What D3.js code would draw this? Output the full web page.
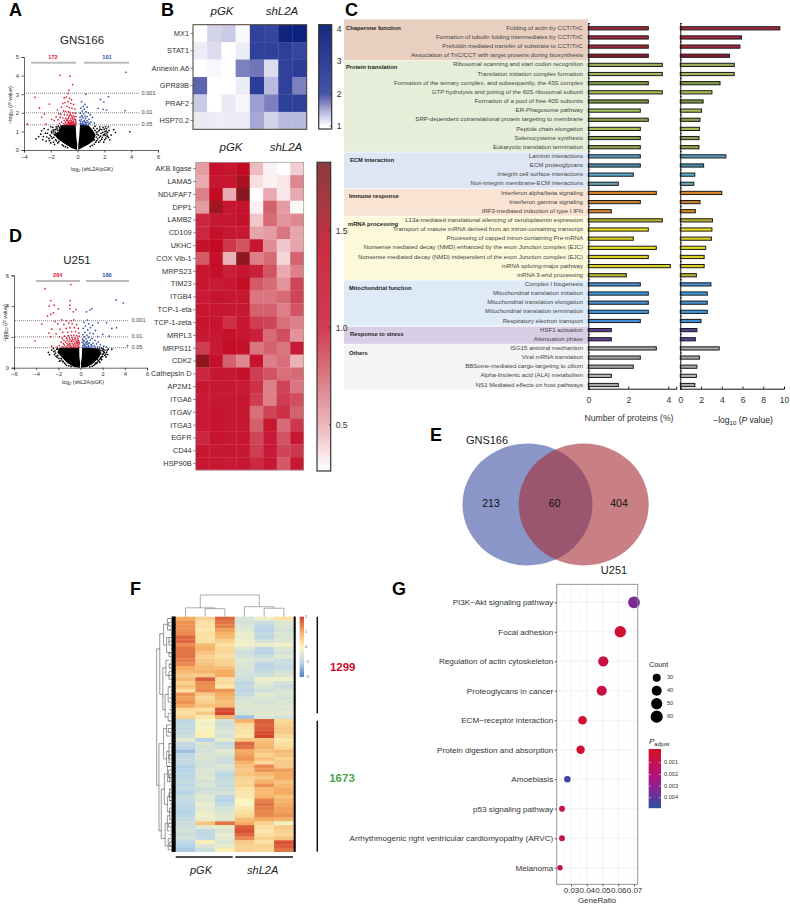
<!DOCTYPE html>
<html>
<head>
<meta charset="utf-8">
<script src="https://cdn.jsdelivr.net/npm/d3@7"></script>
<style>
  html, body { margin: 0; padding: 0; background: #fff; }
  svg { display: block; font-family: "Liberation Sans", Arial, sans-serif; }
  text { fill: #222; }
</style>
</head>
<body>
<svg id="fig" width="790" height="906"></svg>
<script>
// ---------- panel A volcano (log2 ratio, -log10 p) ----------
const aRed = [[-1.3,4.02],[-.57,3.97],[-.37,3.52],[-.65,3.22],[-.7,3.04],[-3.18,2.83],[-2.85,2.26],[-2.1,2.47],[-2.48,1.94],[-2.68,1.76],[-1.93,1.65],[-3.75,1.39],[-2.36,1.39],[-1.74,1.58],[-1,2.8],[-.85,2.85],[-.6,2.78],[-.45,2.7],[-.7,2.6],[-.95,2.55],[-1.1,2.5],[-.5,2.5],[-.3,2.45],[-.8,2.35],[-1.2,2.3],[-.62,2.28],[-.42,2.25],[-.2,2.2],[-1.5,2.15],[-1.05,2.1],[-.9,2.08],[-.7,2.05],[-.55,2.02],[-.35,2],[-.15,1.98],[-1.4,1.95],[-1.25,1.92],[-.98,1.9],[-.78,1.88],[-.6,1.85],[-.45,1.84],[-.28,1.82],[-.12,1.8],[-1.6,1.78],[-1.3,1.75],[-1.1,1.72],[-.88,1.7],[-.7,1.7],[-.52,1.68],[-.36,1.66],[-.2,1.65],[-1.45,1.62],[-1,1.6],[-.8,1.58],[-.62,1.57],[-.44,1.56],[-.3,1.55],[-.14,1.54],[-1.2,1.5],[-.92,1.5],[-.72,1.48],[-.55,1.47],[-.38,1.46],[-.22,1.45],[-.1,1.44],[-1.35,1.42],[-1.05,1.41],[-.85,1.4],[-.66,1.4],[-.48,1.39],[-.32,1.38],[-.18,1.38],[-.58,1.36],[-.42,1.36],[-.26,1.36],[-.75,1.37],[-.95,1.37],[-.5,1.6],[-.4,1.75],[-.65,1.78],[-.25,1.72],[-.55,1.92],[-.35,1.5],[-.6,1.45],[-.15,1.62],[-.78,1.62],[-.46,1.48],[-.3,1.42],[-.7,1.52],[-.52,1.4]];
const aBlue = [[3.6,4.18],[.62,3],[2.3,2.86],[1.7,2.72],[1.96,2.58],[3.55,2.12],[2.16,2.15],[1.9,2.19],[1.54,2.24],[.3,2.6],[.55,2.45],[.42,2.35],[.7,2.3],[.25,2.25],[.5,2.2],[.35,2.1],[.62,2.05],[.8,2],[.2,1.98],[.45,1.95],[.95,1.9],[.3,1.85],[.55,1.82],[.72,1.8],[.18,1.75],[.4,1.72],[.6,1.7],[.85,1.65],[1.1,1.75],[.28,1.62],[.5,1.6],[.7,1.58],[.22,1.52],[.38,1.5],[.58,1.48],[.78,1.5],[1,1.5],[1.25,1.45],[.2,1.42],[.32,1.4],[.46,1.39],[.62,1.38],[.8,1.38],[.25,1.37],[.4,1.36],[.55,1.36],[.15,1.6],[.66,1.46],[.9,1.42],[.48,1.52],[.35,1.78]];
const aBlack = [[-2.68,1.03],[2.83,.94],[3.9,.98],[-2.9,.72],[-2.6,.55],[-2.4,.9],[-2.3,.7],[-2.2,1.1],[-2.1,.5],[-2.05,.8],[-1.95,1],[-1.9,.62],[-1.85,1.22],[-1.8,.42],[-1.75,.85],[-1.7,1.08],[-1.65,.55],[-1.6,1.25],[-1.55,.72],[-1.5,1.05],[-1.45,.92],[-1.4,.45],[-1.35,1.2],[-1.3,.82],[-1.25,1.28],[-3.1,.6],[-2.75,.85],[-2.5,1.15],[-1.2,1.1],[-1.65,.95],[-2,1.25],[1.3,1.28],[1.4,.95],[1.45,1.15],[1.5,.6],[1.55,.8],[1.6,1.05],[1.65,1.25],[1.7,.5],[1.75,.9],[1.8,1.1],[1.85,.68],[1.9,1.22],[1.95,.42],[2,.85],[2.05,1],[2.1,.62],[2.15,1.15],[2.2,.8],[2.25,.95],[2.2,.72],[2.15,1.02],[2.05,.78],[2.3,1.25],[2.4,.55],[2.5,.8],[2.7,1.1],[1.25,.55],[1.35,.42],[1.2,1.18],
  [-2.55,.72],[-2.35,.48],[-2.25,.9],[-2.15,.62],[-2,.38],[-1.98,.72],[-1.92,.92],[-1.82,1.08],[-1.78,.68],[-1.72,.3],[-1.68,.78],[-1.6,.88],[-1.58,.5],[-1.52,1.18],[-1.48,.38],[-1.42,.7],[-1.38,1.08],[-1.32,1],[-1.28,.55],[-1.22,.95],[-1.15,.28],[-1.05,.22],[-.9,.18],[-.75,.12],[-1.8,.98],[-1.62,1.12],[-1.45,1.28],[-1.3,1.12],[1.1,.25],[.95,.2],[1.25,.32],[1.4,.7],[1.42,.5],[1.52,.98],[1.58,.42],[1.62,.68],[1.68,1.12],[1.72,.75],[1.8,.58],[1.88,.95],[1.92,.8],[1.98,1.12],[2.02,.55],[2.08,1.25],[2.12,.9],[2.3,.68],[2.35,1.05],[1.3,1.05],[1.45,.85]];
const aCoreLeft = [[-.05,0],[-.5,.12],[-1,.35],[-1.5,.6],[-1.7,.85],[-1.4,1],[-1.2,1.33],[-.14,1.35],[-.1,.7],[-.03,.3]];
const aCoreRight = [[.05,0],[.4,.15],[.8,.3],[1.2,.5],[1.35,.8],[1.1,1.1],[.8,1.33],[.18,1.34],[.12,.7],[.05,.3]];

// ---------- panel D volcano ----------
const dRed = [[-3.19,5.14],[-.87,5.4],[-2.68,4.36],[-.93,4.36],[-2.38,4.06],[-.96,4.06],[-2.83,4],[-2,3.82],[-.96,3.84],[-.42,3.78],[-.66,3.63],[-2.44,3.56],[-2.68,3.46],[-2.98,3.35],[-3.5,2.83],[-4.1,1.75],[-2.6,1.4],[-1.7,3.1],[-1.3,3.05],[-.85,3.05],[-.6,3.1],[-2.3,3],[-2.05,2.85],[-1.5,2.8],[-1.05,2.9],[-.75,2.85],[-.35,2.8],[-2.6,2.5],[-1.85,2.5],[-1.3,2.55],[-.95,2.6],[-.55,2.6],[-.2,2.55],[-2.85,2.25],[-2.2,2.2],[-1.6,2.3],[-1.15,2.3],[-.8,2.35],[-.45,2.35],[-.15,2.25],[-2.7,2.02],[-1.9,2],[-1.45,2.05],[-1.1,2.08],[-.85,2.1],[-.6,2.12],[-.35,2.08],[-.12,2.05],[-1.65,1.9],[-1.25,1.92],[-1,1.94],[-.75,1.95],[-.5,1.92],[-.25,1.9],[-1.5,1.78],[-1.2,1.8],[-.95,1.82],[-.7,1.82],[-.45,1.8],[-.18,1.78],[-1.75,1.66],[-1.35,1.68],[-1.08,1.7],[-.85,1.7],[-.6,1.7],[-.35,1.68],[-.12,1.66],[-1.55,1.56],[-1.22,1.58],[-.98,1.58],[-.75,1.58],[-.52,1.58],[-.28,1.56],[-.1,1.55],[-1.9,1.44],[-1.45,1.46],[-1.15,1.46],[-.9,1.46],[-.66,1.47],[-.42,1.46],[-.2,1.46],[-2.1,1.34],[-1.65,1.36],[-1.3,1.36],[-1.02,1.36],[-.8,1.36],[-.56,1.36],[-.32,1.36],[-.14,1.36],[-1.5,1.32],[-1.18,1.32],[-.68,1.32],[-.45,1.32],[-.24,1.32],[-.9,1.32],[-.6,1.5],[-.38,1.62],[-.8,1.74],[-.52,1.88],[-.28,1.76],[-1.05,1.5],[-.22,1.64]];
const dBlue = [[3.22,4.4],[3.86,4.2],[1.02,3.84],[.84,3.74],[.54,3.63],[.63,3.09],[2.35,2.92],[1.6,2.92],[3.25,2.6],[2.83,2.55],[2.6,2.05],[2,2.16],[4.25,1.43],[.3,2.95],[.75,2.85],[1.1,2.75],[.45,2.7],[.9,2.6],[.25,2.55],[.65,2.45],[1.35,2.42],[.4,2.3],[.85,2.25],[1.15,2.2],[.22,2.15],[.58,2.1],[1.55,2.02],[.35,2],[.75,1.98],[1.05,1.9],[.2,1.85],[.5,1.88],[.9,1.8],[1.3,1.78],[.32,1.72],[.62,1.72],[1.6,1.68],[.18,1.64],[.46,1.62],[.8,1.62],[1.12,1.6],[1.45,1.55],[.28,1.54],[.6,1.52],[.95,1.5],[1.8,1.5],[.2,1.44],[.42,1.44],[.72,1.42],[1.25,1.42],[2.1,1.4],[.32,1.36],[.55,1.35],[.85,1.34],[1.05,1.36],[1.55,1.36],[.22,1.32],[.46,1.32],[.7,1.32],[1.35,1.32],[1.75,1.33],[2.35,1.36],[.38,1.52],[.7,1.56],[.25,1.75],[.55,1.64],[1,1.44]];
const dBlack = [[2.83,1.2],[-2.9,1],[-2.8,.85],[-2.6,1.15],[-2.45,1.25],[-2.3,1.1],[-2.25,.95],[-2.15,1.2],[-2.05,.8],[-1.95,.6],[-1.85,.45],[-1.7,.5],[-1.6,.38],[-1.45,.3],[1.35,.3],[1.5,.35],[1.6,.45],[1.75,.55],[1.85,.6],[2,.72],[2.05,.92],[2.1,1.05],[2.2,.8],[2.2,1.15],[2.3,.7],[2.35,1],[2.45,.85],[2.5,1.2],[1.95,1.25],[1.75,.35],[1.2,.15],[-1.25,.15],
  [-2.35,.85],[-2.2,.75],[-2.4,1.05],[-2.1,.68],[-1.9,.42],[-2.05,1.22],[-1.75,.6],[-1.55,.42],[-1.35,.24],[-1.05,.12],[-.85,.08],[.85,.06],[1.05,.1],[1.3,.22],[1.45,.28],[1.55,.52],[1.68,.42],[1.8,.66],[1.92,.52],[1.98,.85],[2.05,1.2],[2.15,.98],[2.28,.88],[2.42,1.12],[2,1.1],[1.85,1.12],[1.72,1.22],[1.9,.72]];
const dCoreLeft = [[-.05,0],[-.6,.05],[-1.2,.3],[-1.7,.7],[-2.1,1],[-1.9,1.3],[-.12,1.3],[-.1,.7],[-.03,.3]];
const dCoreRight = [[.05,0],[.6,.05],[1.1,.25],[1.6,.6],[1.9,.95],[1.6,1.27],[.15,1.3],[.12,.7],[.04,.3]];

// ---------- panel B heatmaps ----------
const bTopGenes = ["MX1","STAT1","Annexin A6","GPR89B","PRAF2","HSP70.2"];
const bTopValues = [
  [1,1.25,1.3,1.03,2.4,2.2,3.8,3.9],
  [1.1,1.2,1,1.1,2.4,2.4,2.5,2.2],
  [1,1.04,1,1.7,1.75,1.2,2.4,2.6],
  [1.85,1,1,1.1,2.6,1.4,2.4,1.7],
  [1.3,1,1.12,1.05,1.55,1.7,2.5,2.5],
  [1.12,1.1,1.1,1.1,1.5,1.25,1.4,1.4]];
const bTopTicks = [1,2,3,4];
const bGenes = ["AKB ligase","LAMA5","NDUFAF7","DPP1","LAMB2","CD109","UKHC","COX Vlb-1","MRPS23","TIM23","ITGB4","TCP-1-eta","TCP-1-zeta","MRPL3","MRPS11","CDK2","Cathepsin D","AP2M1","ITGA6","ITGAV","ITGA3","EGFR","CD44","HSP90B"];
const bValues = [
  [.55,1.25,1.1,1.4,.45,.3,.26,.4],
  [.5,1.1,1.1,1.55,.35,.3,.33,.62],
  [.65,1.35,.5,1.75,.26,.5,.33,.5],
  [.55,1.6,1.1,1.2,.3,.75,.55,.28],
  [.95,1.05,1.05,1.25,.42,.72,.58,.62],
  [.95,1.25,1.05,1.05,.52,.55,.68,.52],
  [1.2,1.4,.9,.8,1.1,.6,.42,.52],
  [.78,1.25,.48,1.7,.65,.72,.38,.75],
  [1.1,1.25,.98,1.1,.98,.8,.5,.65],
  [1.05,1,1.05,1.3,.78,.72,.58,.85],
  [1,1.15,1.1,1.1,.68,.68,.72,.85],
  [1.1,1.1,1.05,1.05,.75,.75,.65,.8],
  [1.15,1.15,.92,1.1,.88,.85,.7,.65],
  [1.05,1.1,1.2,1.1,.98,.72,.82,.58],
  [.88,1,1.3,1.2,.68,.75,.68,1],
  [1.7,1.25,.75,.62,1.15,.65,.7,.48],
  [.95,1.1,1.05,1.25,.88,.8,.7,.72],
  [1.05,1.05,1.05,1,.92,.65,.85,.68],
  [1,1.05,1.05,1.1,.88,.65,.88,.82],
  [1,1.15,1.05,1.05,.7,.85,.92,.75],
  [1,1.15,1.05,1.05,.75,1.1,.72,.9],
  [.95,1.15,1.05,1.1,.85,1,.8,1.05],
  [1.05,1.05,1.1,1.05,.88,1,.85,.9],
  [1.05,1.1,1,1.05,.95,1.05,.78,1.05]];
const bTicks = [0.5,1.0,1.5];

// ---------- panel C enrichment bars ----------
const cGroups = ["Chaperone function","Protein translation","ECM interaction","Immune response","mRNA processing","Mitochondrial function","Response to stress","Others"];
const cGroupSizes = [4,10,4,3,7,5,2,5];
const cPathways = ["Folding of actin by CCT/TriC","Formation of tubulin folding intermediates by CCT/TriC","Prefoldin mediated transfer of substrate to CCT/TriC","Association of TriC/CCT with target proteins during biosynthesis",
  "Ribosomal scanning and start codon recognition","Translation initiation complex formation","Formation of the ternary complex, and subsequently, the 43S complex","GTP hydrolysis and joining of the 60S ribosomal subunit","Formation of a pool of free 40S subunits","ER-Phagosome pathway","SRP-dependent cotranslational protein targeting to membrane","Peptide chain elongation","Selenocysteine synthesis","Eukaryotic translation termination",
  "Laminin interactions","ECM proteoglycans","Integrin cell surface interactions","Non-integrin membrane-ECM interactions",
  "Interferon alpha/beta signaling","Interferon gamma signaling","IRF3-mediated induction of type I IFN",
  "L13a-mediated translational silencing of ceruloplasmin expression","Transport of mature mRNA derived from an intron-containing transcript","Processing of capped intron-containing Pre-mRNA","Nonsense mediated decay (NMD) enhanced by the exon Junction complex (EJC)","Nonsense mediated decay (NMD) independent of the exon Junction complex (EJC)","mRNA splicing-major pathway","mRNA 3-end processing",
  "Complex I biogenesis","Mitochondrial translation initiation","Mitochondrial translation elongation","Mitochondrial translation termination","Respiratory electron transport",
  "HSF1 activation","Attenuation phase",
  "ISG15 antiviral mechanism","Viral mRNA translation","BBSome-mediated cargo-targeting to cilium","Alpha-linolenic acid (ALA) metabolism","NS1 Mediated effects on host pathways"];
const cProteins = [3,3,3,3, 3.7,3.7,3,3.7,3,2.6,3,2.6,2.6,2.6, 2.6,2.6,2.25,1.5, 3.4,2.6,1.15, 3.7,3,2.25,3.4,3,4.1,1.9, 2.6,3,3,3,2.6, 1.15,1.15, 3.4,2.6,2.25,1.15,1.5];
const cLogP = [9.6,5.9,5.75,4.75, 5.2,5.2,3.83,3.05,2.2,2.05,1.9,1.85,1.8,1.8, 4.4,2.25,1.4,1.3, 4,1.9,1.45, 3.1,3.05,3,2.45,2.3,2.3,1.55, 2.95,2.6,2.6,2.6,2, 1.6,1.45, 3.75,1.85,1.6,1.55,1.4];
const cProteinTicks = [0,2,4];
const cLogPTicks = [0,2,4,6,8,10];

// ---------- panel E venn ----------
const vennCounts = [213,60,404];
const vennNames = ["GNS166","U251"];

// ---------- panel F clustered heatmap ----------
const fColumns = ["c1","c2","c3","c4","c5","c6"];
const fCluster1 = [
  [1,.5,1.6,-.6,-.2,.3],[1.2,.3,1.5,-.6,-.7,-.5],[1.2,.3,1.4,-.5,-.9,-.5],[1.2,.2,1.1,-.4,-1,-.6],[1.3,.3,.9,-.3,-.8,-.5],[1.6,.3,.8,-.3,-.9,-.5],[1.6,.3,.5,-.2,-.6,-.4],[1.3,.8,.3,-.2,-.3,-.2],[1.5,.9,.4,-.5,-.9,-.5],
  [1.5,.7,.4,-.7,-1,-.6],[1.5,.5,.3,-.6,-.7,-.4],[1.4,.6,.5,-.4,-.6,-.7],[1.3,.7,.5,-.5,-.9,-.7],[1,.8,.7,-.5,-.9,-.8],[.8,.9,1,-.6,-.8,-.6],[.6,.6,1,-.6,-.7,-.5],[.8,1.7,.3,-.7,-.2,-.2],[.5,1.3,.4,-.9,-.4,-.6],
  [.7,1.2,.2,-.8,-.5,-.7],[.3,1.3,1.2,-.9,-.7,-.5],[1.2,.6,1,-.8,-.4,-.5],[1.1,.4,.9,-.6,-.5,-.6],[1.2,.5,.7,-.5,-.6,-.5],[1,.7,.8,-.4,-.5,-.4],[.4,.3,1.8,-.5,-.5,-.5],[.3,.6,1.9,-.5,-.4,-.4],[.5,.2,.9,-1.2,-.5,-.6]];
const fCluster2 = [
  [-.9,-.1,-.6,.9,1.7,.4],[-.8,-.2,-.7,.4,1.6,.5],[-.8,-.1,-.6,.3,1.7,.6],[-.8,.1,-.5,.3,1.8,.6],[-.7,.1,-.6,.2,1.9,.4],[-.4,-1,-.3,.6,.7,.2],[-.8,-.5,-.8,1.6,.8,.3],
  [-.9,-.6,-.7,1.5,.9,.4],[-1.2,-.6,-.4,1,.7,.8],[-.9,-.5,-.5,1.1,.5,.7],[-.8,-.5,-.7,1.2,.7,.5],[-.8,-.6,-.7,.9,.4,.6],[-1,-.6,-.5,.7,1.3,.6],[-1,-.5,-.6,.6,1.2,1.1],
  [-.9,-.5,-.9,.7,.8,1],[-.9,-.4,-.8,.5,.6,1],[-.8,-.6,-.7,.4,.9,.7],[-.9,-.5,-.8,.5,1.2,.8],[-.8,-.7,-.7,.3,.8,1],[-1,-.6,-.6,.2,.8,1],[-.7,-.4,-.9,.2,.9,.7],
  [-.8,-.5,-1,0,1.4,.9],[-.9,-.3,-.8,-.1,1.5,1],[-.9,-.4,-.6,.2,1.4,1.1],[-1,-.3,-.5,.3,1.3,1.1],[-.9,-.2,-.4,.4,1.3,1.2],[-.8,-.3,-.4,.8,1,.9],[-.7,.7,1.5,1,.5,-.2],
  [-.7,-.4,-.3,1.7,.3,.6],[-.6,-.8,-.5,1.8,.2,.5],[-.7,-.9,-.3,1.6,.3,.4],[-.6,-.8,-.4,1.3,.5,.7],[-.9,.1,-.5,.6,.3,1.8],[-1,-.5,-.3,.5,.5,1.7],[-1.1,-.7,.1,.5,.4,1.5]];
const fTicks = [-2,-1,0,1,2];
const fClusterSizes = [1299,1673];
// column tree: merge height and two children, leaves are column indexes
const fColTree = {h:1, kids:[{h:.41, kids:[0,{h:.37, kids:[1,2]}]},{h:.46, kids:[3,{h:.39, kids:[4,5]}]}]};
// row tree brackets: depth, row a, row b, depth a, depth b
const fRowTree = [[1,8,44,.8,.85],[.8,4,20,.55,.6],[.55,1.5,7,.3,.35],[.6,13,24,.4,.45],[.85,33,56,.55,.7],[.55,29,37,.35,.35],[.7,45,58,.5,.45],[.5,41,49,.3,.3],[.45,54,60,.3,.25],[.3,0,3,.15,.1],[.35,5,9,.2,.15],[.4,11,15,.2,.2],[.45,20,26,.25,.25],[.35,28,31,.15,.15],[.35,35,39,.2,.15],[.3,39,43,.15,.15],[.3,47,51,.15,.15],[.3,52,56,.15,.15],[.25,58,61,.1,.1],[.2,5,7,.1,.1],[.2,9,10,.1,.1],[.2,14,16,.1,.1],[.25,18,22,.12,.12],[.25,25,27,.12,.1],[.2,33,37,.1,.1],[.15,41,43,.08,.08],[.15,45,48,.08,.08],[.15,50,53,.08,.08],[.22,1,2,.1,.1],[.18,12,13,.08,.08],[.24,29,30,.1,.1],[.2,36,38,.1,.1],[.22,40,42,.1,.1],[.2,46,47,.1,.1],[.22,54,55,.1,.1],[.18,59,60,.08,.08]];

// ---------- panel G dot plot ----------
const gPathways = ["PI3K\u2212Akt signaling pathway","Focal adhesion","Regulation of actin cytoskeleton","Proteoglycans in cancer","ECM\u2212receptor interaction","Protein digestion and absorption","Amoebiasis","p53 signaling pathway","Arrhythmogenic right ventricular cardiomyopathy (ARVC)","Melanoma"];
const gRatio = [.07,.0613,.0505,.0495,.0373,.0361,.0277,.0243,.0243,.023];
const gCount = [66,60,49,48,37,36,27,24,24,22];
const gPadj = [.0035,.0002,.0007,.0006,.0002,.0001,.0045,.0008,.001,.0013];
const gRatioTicks = [.03,.04,.05,.06,.07];
const gCountTicks = [30,40,50,60];
const gPadjTicks = [.001,.002,.003,.004];

const svg = d3.select("#fig");

function txt(x, y, s, size, anchor, opts) {
  opts = opts || {};
  return svg.append("text").attr("x", x).attr("y", y)
    .attr("font-size", size).attr("text-anchor", anchor || "start")
    .attr("dominant-baseline", "middle")
    .attr("font-weight", opts.weight || null)
    .attr("font-style", opts.style || null)
    .style("fill", opts.fill || null)
    .text(s);
}

// panel letters
[["A",9,11.5],["B",161,11.5],["C",345,11.5],["D",9,237],["E",430,436],["F",130,590],["G",392,590]].forEach(d => {
  txt(d[1], d[2], d[0], 18, "start", {weight: "bold", fill: "#000"});
});

// ---------- volcanoes ----------
function logLabel(x, y, size, anchor, rotate, parts) {
  const t = svg.append("text").attr("font-size", size).attr("text-anchor", anchor)
    .attr("transform", `translate(${x},${y})` + (rotate ? " rotate(-90)" : ""));
  parts.forEach(p => {
    const s = t.append("tspan").text(p.t);
    if (p.sub) s.attr("font-size", size * .72).attr("dy", size * .25);
    if (p.back) s.attr("dy", -size * .25);
    if (p.it) s.attr("font-style", "italic");
  });
  return t;
}

function drawVolcano(cfg) {
  const x = d3.scaleLinear().domain(cfg.xDomain).range(cfg.xRange);
  const y = d3.scaleLinear().domain(cfg.yDomain).range(cfg.yRange);
  const g = svg.append("g");

  cfg.sig.forEach((s, i) => {
    g.append("line").attr("x1", cfg.sigFrom).attr("x2", cfg.sigTo)
      .attr("y1", y(s)).attr("y2", y(s))
      .attr("stroke", "#555").attr("stroke-width", .7).attr("stroke-dasharray", "1,1");
    txt(cfg.sigTo + 2.5, y(s), cfg.sigLabels[i], 5.6, "start", {fill: "#444"});
  });

  const line = d3.line().x(d => x(d[0])).y(d => y(d[1])).curve(d3.curveLinearClosed);
  [cfg.coreL, cfg.coreR].forEach(c => g.append("path").attr("d", line(c)).attr("fill", "#000"));

  const dots = (data, col) => g.append("g").selectAll("circle").data(data).enter().append("circle")
    .attr("cx", d => x(d[0])).attr("cy", d => y(d[1])).attr("r", .85).attr("fill", col);
  dots(cfg.black, "#000");
  dots(cfg.red, "#d2203c");
  dots(cfg.blue, "#2f4fa8");

  const ax = g.append("g").attr("transform", `translate(0,${cfg.yRange[0]})`)
    .call(d3.axisBottom(x).tickValues(cfg.xTicks).tickSize(2.5).tickFormat(d3.format("d")));
  const ay = g.append("g").attr("transform", `translate(${cfg.xRange[0]},0)`)
    .call(d3.axisLeft(y).tickValues(cfg.yTicks).tickSize(2.5).tickFormat(d3.format("d")));
  [ax, ay].forEach(a => {
    a.selectAll("text").attr("font-size", 5.8).attr("font-family", "inherit").style("fill", "#333");
    a.selectAll("path,line").attr("stroke", "#222").attr("stroke-width", .7);
  });
  ax.selectAll("text").attr("dy", ".55em");
  ay.selectAll("text").attr("dx", ".1em");

  cfg.bars.forEach(b => {
    g.append("line").attr("x1", b[0]).attr("x2", b[1]).attr("y1", cfg.barY).attr("y2", cfg.barY)
      .attr("stroke", cfg.barColor).attr("stroke-width", cfg.barWidth);
  });
  txt(cfg.nPos[0], cfg.barY - 5.5, cfg.n[0], 5.6, "middle", {weight: "bold", fill: "#d2203c"});
  txt(cfg.nPos[1], cfg.barY - 5.5, cfg.n[1], 5.6, "middle", {weight: "bold", fill: "#2f4fa8"});
  txt(cfg.title[1], cfg.title[2], cfg.title[0], 11.5, "middle", {fill: "#222"});

  logLabel(cfg.xLab[0], cfg.xLab[1], 5.4, "middle", false, [{t:"log"},{t:"2",sub:true},{t:" (shL2A/pGK)",back:true}]);
  logLabel(cfg.yLab[0], cfg.yLab[1], 5.4, "middle", true, [{t:"\u2212log"},{t:"10",sub:true},{t:" (",back:true},{t:"P",it:true},{t:" value)"}]);
}

drawVolcano({
  xDomain:[-4,6], xRange:[24,158], yDomain:[0,5], yRange:[150,57],
  xTicks:[-4,-2,0,2,4,6], yTicks:[0,1,2,3,4,5],
  sig:[3.05,2,1.35], sigLabels:["0.001","0.01","0.05"], sigFrom:24, sigTo:139,
  coreL:aCoreLeft, coreR:aCoreRight, black:aBlack, red:aRed, blue:aBlue,
  bars:[[31,76],[84,129]], barY:62.7, barColor:"#bdbdbd", barWidth:2,
  n:["172","101"], nPos:[53,107], title:["GNS166",82,41],
  xLab:[92,171], yLab:[12,105]
});
drawVolcano({
  xDomain:[-6,6], xRange:[14,147], yDomain:[0,6], yRange:[367.7,275.3],
  xTicks:[-6,-4,-2,0,2,4,6], yTicks:[0,2,4,6],
  sig:[3.05,2,1.3], sigLabels:["0.001","0.01","0.05"], sigFrom:15, sigTo:129,
  coreL:dCoreLeft, coreR:dCoreRight, black:dBlack, red:dRed, blue:dBlue,
  bars:[[36,80],[86,129]], barY:281, barColor:"#666", barWidth:.9,
  n:["284","180"], nPos:[57.7,107], title:["U251",77,261],
  xLab:[83,384], yLab:[7,323]
});

// ---------- panel B ----------
function drawHeat(cfg) {
  const x = d3.scaleBand().domain(d3.range(8)).range(cfg.xRange);
  const y = d3.scaleBand().domain(cfg.genes).range(cfg.yRange);
  const g = svg.append("g");
  cfg.values.forEach((row, r) => {
    g.append("g").selectAll("rect").data(row).enter().append("rect")
      .attr("x", (d, i) => x(i)).attr("y", y(cfg.genes[r]))
      .attr("width", x.bandwidth() + .3).attr("height", y.bandwidth() + .3)
      .attr("fill", d => cfg.color(d));
  });
  g.append("rect").attr("x", cfg.xRange[0]).attr("y", cfg.yRange[0])
    .attr("width", cfg.xRange[1] - cfg.xRange[0]).attr("height", cfg.yRange[1] - cfg.yRange[0])
    .attr("fill", "none").attr("stroke", cfg.frame).attr("stroke-width", cfg.frameW);
  const ay = g.append("g").attr("transform", `translate(${cfg.xRange[0]},0)`)
    .call(d3.axisLeft(y).tickSize(2.5).tickPadding(1.5));
  ay.select(".domain").remove();
  ay.selectAll("line").attr("stroke", "#333").attr("stroke-width", .6);
  ay.selectAll("text").attr("font-size", 7.4).attr("font-family", "inherit").style("fill", "#333");

  // colour bar
  const scaleY = d3.scaleLinear().domain(cfg.barDomain).range(cfg.barRange);
  const steps = d3.range(cfg.barRange[1], cfg.barRange[0], 1);
  g.append("g").selectAll("rect").data(steps).enter().append("rect")
    .attr("x", cfg.barX[0]).attr("width", cfg.barX[1] - cfg.barX[0])
    .attr("y", d => d).attr("height", 1.2)
    .attr("fill", d => cfg.color(scaleY.invert(d)));
  g.append("rect").attr("x", cfg.barX[0]).attr("y", cfg.barRange[1])
    .attr("width", cfg.barX[1] - cfg.barX[0]).attr("height", cfg.barRange[0] - cfg.barRange[1])
    .attr("fill", "none").attr("stroke", "#333").attr("stroke-width", 1.2);
  const ab = g.append("g").attr("transform", `translate(${cfg.barX[1]},0)`)
    .call(d3.axisRight(scaleY).tickValues(cfg.ticks).tickSize(-1.5).tickPadding(5).tickFormat(cfg.tickFormat));
  ab.select(".domain").remove();
  ab.selectAll("line").attr("stroke", "#222");
  ab.selectAll("text").attr("font-size", 8.6).attr("font-family", "inherit").style("fill", "#333");
  return g;
}

const blueScale = d3.scaleLinear()
  .domain([1,1.25,1.5,1.75,2,2.5,4])
  .range(["#ffffff","#d3d3ea","#a6a9d6","#7276b8","#3c4ba3","#2c3f99","#0a1f7c"]);
const redScale = d3.scaleLinear()
  .domain([.26,.5,.75,1,1.4,1.6,1.85])
  .range(["#ffffff","#e8aab0","#d4626e","#c81a36","#c20a20","#a01520","#781a1e"]);

txt(222, 12, "pGK", 11.5, "middle", {style:"italic"});
txt(282, 12, "shL2A", 11.5, "middle", {style:"italic"});
txt(231, 148, "pGK", 11.5, "middle", {style:"italic"});
txt(286, 148, "shL2A", 11.5, "middle", {style:"italic"});

const heatTop = drawHeat({genes:bTopGenes, values:bTopValues, xRange:[193,306.7], yRange:[24.7,129.3], color:blueScale,
  frame:"#4a4030", frameW:1, barX:[318.7,331.7], barRange:[129,24.7], barDomain:[.9,4.13], ticks:bTopTicks, tickFormat:d3.format("d")});
const heatBig = drawHeat({genes:bGenes, values:bValues, xRange:[195.7,303.7], yRange:[162.3,470], color:redScale,
  frame:"#999", frameW:.7, barX:[317,330.7], barRange:[471,162.3], barDomain:[.26,1.85], ticks:bTicks, tickFormat:d3.format(".1f")});

// ---------- panel C ----------
const cBg = ["#e9cfc0","#e6eed9","#dfe6f3","#f9e3d3","#fcf9da","#deebf7","#d8cfe6","#f4f4f4"];
const cColors = ["#a4283a","#a4283a","#a4283a","#8e1a2c",
  "#9caf5c","#a3b95c","#7f9a48","#a6c050","#7a9645","#a8c45a","#8aa24e","#a6c050","#8aa24e","#8fa84a",
  "#5a9cc4","#4a8cb4","#5faad0","#6aa0b4",
  "#d9842c","#c9802e","#d9842c",
  "#b5b030","#e8e020","#d8d420","#e8e020","#d8d420","#d8d420","#b5b030",
  "#4a90d0","#3f9ae0","#4a90d0","#3f9ae0","#3f8fd8",
  "#5a3f90","#5a3f90",
  "#a8a8a8","#a8a8a8","#a8a8a8","#b8b8b8","#a8a8a8"];
const cTitleRow = [0,4.3,14.5,18.4,21.5,28.4,33.5,35.6];
const cTitleX = [346,346,350,349,348,349,350,349];

const cY = d3.scalePoint().domain(d3.range(cPathways.length)).range([28.3,385]);
const cStep = cY.step();
let cStart = 0;
cGroups.forEach((name, i) => {
  const first = cStart, last = cStart + cGroupSizes[i] - 1;
  const top = i === 0 ? cY(first) - 9 : cY(first) - cStep / 2 + (i === 6 ? 1 : .6);
  svg.append("rect").attr("x", 344).attr("width", 244)
    .attr("y", top).attr("height", cY(last) + cStep / 2 - top)
    .attr("fill", cBg[i]);
  cStart = last + 1;
});
cGroups.forEach((name, i) => {
  const r = cTitleRow[i];
  txt(cTitleX[i], d3.interpolateNumber(cY(0), cY(1))(r), name, 5.8, "start", {weight:"bold", fill:"#222"});
});
svg.append("g").selectAll("text").data(cPathways).enter().append("text")
  .attr("x", 583).attr("y", (d, i) => cY(i)).attr("dominant-baseline", "middle")
  .attr("text-anchor", "end").attr("font-size", 6.1).style("fill", "#444").text(d => d);
heatTop.raise();
heatBig.raise();

const cXa = d3.scaleLinear().domain([0,4.4]).range([588.3,676.3]);
const cXb = d3.scaleLinear().domain([0,10]).range([680.3,784]);
[[cProteins,cXa],[cLogP,cXb]].forEach(p => {
  svg.append("g").selectAll("rect").data(p[0]).enter().append("rect")
    .attr("x", p[1](0)).attr("y", (d, i) => cY(i) - 1.6)
    .attr("width", d => p[1](d) - p[1](0)).attr("height", 3.2)
    .attr("fill", (d, i) => cColors[i]).attr("stroke", "#1a1a1a").attr("stroke-width", 1);
});
[[cXa,cProteinTicks],[cXb,cLogPTicks]].forEach(p => {
  const a = svg.append("g").attr("transform", "translate(0,388.7)")
    .call(d3.axisBottom(p[0]).tickValues(p[1]).tickSize(-2).tickPadding(8).tickFormat(d3.format("d")));
  a.selectAll("path,line").attr("stroke", "#111").attr("stroke-width", 1);
  a.selectAll("text").attr("font-size", 8.6).attr("font-family", "inherit").style("fill", "#333");
});
[588.3,680.3].forEach(xp => {
  const a = svg.append("g").attr("transform", `translate(${xp},0)`)
    .call(d3.axisRight(d3.scaleLinear().domain([0,40]).range([389,23])).ticks(20).tickSize(1.5).tickFormat(""));
  a.selectAll("path,line").attr("stroke", "#111").attr("stroke-width", 1);
});
txt(629, 419, "Number of proteins (%)", 8.6, "middle", {fill:"#333"});
logLabel(743, 423, 8.5, "middle", false, [{t:"\u2212log"},{t:"10",sub:true},{t:" (",back:true},{t:"P",it:true},{t:" value)"}]);

// ---------- panel E ----------
const vennX = d3.scaleLinear().domain([0,1]).range([527.5,583.7]);
svg.append("ellipse").attr("cx", vennX(0)).attr("cy", 504.5).attr("rx", 65).attr("ry", 61).attr("fill", "#3c50a3").attr("fill-opacity", .6);
svg.append("ellipse").attr("cx", vennX(1)).attr("cy", 504.5).attr("rx", 65).attr("ry", 61).attr("fill", "#a32b32").attr("fill-opacity", .6);
[491,554.7,619].forEach((xp, i) => txt(xp, 504, vennCounts[i], 10.5, "middle", {fill:"#111"}));
txt(487, 441, vennNames[0], 11, "middle", {fill:"#222"});
txt(614, 571, vennNames[1], 11, "middle", {fill:"#222"});

// ---------- panel F ----------
const fRows = fCluster1.concat(fCluster2);
const fColor = d3.scaleLinear().domain([-2,-1,0,1,2]).range(["#4575b4","#b7d3e8","#fdf6c0","#f5ab60","#cf3a2a"]);
const fX = d3.scaleBand().domain(d3.range(fColumns.length)).range([175.7,293.7]);
const fY = d3.scaleBand().domain(d3.range(fRows.length)).range([616.7,851.7]);
fRows.forEach((row, r) => {
  svg.append("g").selectAll("rect").data(row).enter().append("rect")
    .attr("x", (d, i) => fX(i)).attr("y", fY(r))
    .attr("width", fX.bandwidth() + .3).attr("height", fY.bandwidth() + .3)
    .attr("fill", d => fColor(d));
});
// row tree on the left
const fDepth = d3.scaleLinear().domain([0,1]).range([172,156.7]);
const rowMid = r => fY(0) + (r + .5) * fY.step();
const treeG = svg.append("g").attr("fill", "none").attr("stroke", "#333").attr("stroke-width", .5);
treeG.selectAll("path").data(fRowTree).enter().append("path")
  .attr("d", d => `M${fDepth(d[3])},${rowMid(d[1])}H${fDepth(d[0])}V${rowMid(d[2])}H${fDepth(d[4])}`);
treeG.append("g").selectAll("line").data(d3.range(fRows.length)).enter().append("line")
  .attr("x1", d => fDepth(d % 3 === 0 ? .2 : .1)).attr("x2", fDepth(0))
  .attr("y1", d => rowMid(d)).attr("y2", d => rowMid(d));
svg.append("g").selectAll("line").data(d3.range(fRows.length)).enter().append("line")
  .attr("x1", 171.6).attr("x2", 175.7).attr("y1", d => rowMid(d)).attr("y2", d => rowMid(d))
  .attr("stroke", "#000").attr("stroke-width", fY.step() + .5);
svg.append("g").selectAll("line").data(d3.range(fRows.length)).enter().append("line")
  .attr("x1", 293.7).attr("x2", 295.7).attr("y1", d => rowMid(d)).attr("y2", d => rowMid(d))
  .attr("stroke", "#000").attr("stroke-width", fY.step() + .4);

// column tree on top
const fH = d3.scaleLinear().domain([0,1]).range([616.7,595]);
function colTree(n, sel) {
  if (typeof n === "number") return {x: fX(n) + fX.bandwidth() / 2, y: fH(0)};
  const a = colTree(n.kids[0], sel), b = colTree(n.kids[1], sel), yy = fH(n.h);
  sel.append("path").attr("d", `M${a.x},${a.y}V${yy}H${b.x}V${b.y}`);
  return {x: (a.x + b.x) / 2, y: yy};
}
colTree(fColTree, svg.append("g").attr("fill", "none").attr("stroke", "#777").attr("stroke-width", .6));

// legend
const fLegY = d3.scaleLinear().domain([-2,2]).range([676.7,616.7]);
svg.append("g").selectAll("rect").data(d3.range(616.7,676.7,1)).enter().append("rect")
  .attr("x", 299.7).attr("width", 4.3).attr("y", d => d).attr("height", 1.2)
  .attr("fill", d => fColor(fLegY.invert(d)));
svg.append("g").selectAll("text").data(fTicks).enter().append("text")
  .attr("x", 305).attr("y", d => fLegY(d)).attr("dominant-baseline", "middle")
  .attr("font-size", 3.6).style("fill", "#444").text(d => d === 0 ? "0" : (d < 0 ? "\u2212" + (-d) : d));

svg.append("line").attr("x1", 317.3).attr("x2", 317.3).attr("y1", 616.7).attr("y2", 713.3).attr("stroke", "#111").attr("stroke-width", 1.5);
svg.append("line").attr("x1", 317.3).attr("x2", 317.3).attr("y1", 720.7).attr("y2", 851.7).attr("stroke", "#111").attr("stroke-width", 1.5);
txt(342.7, 668, fClusterSizes[0], 11.5, "middle", {weight:"bold", fill:"#c8102e"});
txt(342, 778.5, fClusterSizes[1], 11.5, "middle", {weight:"bold", fill:"#4da34a"});
svg.append("line").attr("x1", 175.7).attr("x2", 232.7).attr("y1", 857).attr("y2", 857).attr("stroke", "#111").attr("stroke-width", 1.3);
svg.append("line").attr("x1", 235.3).attr("x2", 293).attr("y1", 857).attr("y2", 857).attr("stroke", "#111").attr("stroke-width", 1.3);
txt(201, 871, "pGK", 11, "middle", {style:"italic"});
txt(262.7, 871, "shL2A", 11, "middle", {style:"italic"});

// ---------- panel G ----------
const gX = d3.scaleLinear().domain([.03,.07]).range([571,634]);
const gY = d3.scalePoint().domain(gPathways).range([602.3,867.7]);
const gSize = d3.scaleLinear().domain([22,30,40,50,60,66]).range([2.7,3.6,4.6,5.2,5.7,5.9]);
const gFill = d3.scaleLinear().domain([0,.002,.0035,.0048]).range(["#d3102a","#b5107a","#7a2a9a","#2c50a0"]);
const gTop = 584.3, gBottom = 884.3, gLeft = 556.7, gRight = 637.7;

const gGrid = svg.append("g");
d3.range(.025,.075,.005).forEach(v => {
  gGrid.append("line").attr("x1", gX(v)).attr("x2", gX(v)).attr("y1", gTop).attr("y2", gBottom)
    .attr("stroke", "#f0f0f0").attr("stroke-width", Math.round(v * 1000) % 10 === 0 ? .8 : .4);
});
gPathways.forEach(p => {
  gGrid.append("line").attr("x1", gLeft).attr("x2", gRight).attr("y1", gY(p)).attr("y2", gY(p))
    .attr("stroke", "#ededed").attr("stroke-width", .7);
});
svg.append("g").selectAll("circle").data(gPathways).enter().append("circle")
  .attr("cx", (d, i) => gX(gRatio[i])).attr("cy", d => gY(d))
  .attr("r", (d, i) => gSize(gCount[i])).attr("fill", (d, i) => gFill(gPadj[i]));
svg.append("rect").attr("x", gLeft).attr("y", gTop).attr("width", gRight - gLeft).attr("height", gBottom - gTop)
  .attr("fill", "none").attr("stroke", "#8a8a8a").attr("stroke-width", .9);

const gAxL = svg.append("g").attr("transform", `translate(${gLeft},0)`).call(d3.axisLeft(gY).tickSize(2).tickPadding(1.5));
gAxL.select(".domain").remove();
gAxL.selectAll("line").attr("stroke", "#555");
gAxL.selectAll("text").attr("font-size", 8.1).attr("font-family", "inherit").style("fill", "#333");
const gAxB = svg.append("g").attr("transform", `translate(0,${gBottom})`)
  .call(d3.axisBottom(gX).tickValues(gRatioTicks).tickSize(2).tickPadding(1.5).tickFormat(d3.format(".2f")));
gAxB.select(".domain").remove();
gAxB.selectAll("line").attr("stroke", "#555");
gAxB.selectAll("text").attr("font-size", 8).attr("font-family", "inherit").style("fill", "#333");
txt(597, 900.5, "GeneRatio", 8, "middle", {fill:"#333"});

txt(649, 665, "Count", 7.2, "start", {fill:"#222"});
const gLegY = d3.scalePoint().domain(gCountTicks).range([677.7,716.7]);
svg.append("g").selectAll("circle").data(gCountTicks).enter().append("circle")
  .attr("cx", 656.7).attr("cy", d => gLegY(d)).attr("r", d => gSize(d) + .4).attr("fill", "#000");
svg.append("g").selectAll("text").data(gCountTicks).enter().append("text")
  .attr("x", 667).attr("y", d => gLegY(d)).attr("dominant-baseline", "middle")
  .attr("font-size", 5.6).style("fill", "#333").text(d => d);

const padjLab = svg.append("text").attr("x", 649).attr("y", 744).attr("font-size", 8);
padjLab.append("tspan").attr("font-style", "italic").text("P");
padjLab.append("tspan").attr("font-size", 5.6).attr("dy", 1.5).text("adjust");

const gBarY = d3.scaleLinear().domain([.001,.004]).range([762.7,797.7]);
svg.append("g").selectAll("rect").data(d3.range(749,807.7,1)).enter().append("rect")
  .attr("x", 648.7).attr("width", 12.3).attr("y", d => d).attr("height", 1.2)
  .attr("fill", d => gFill(Math.max(0, gBarY.invert(d))));
gPadjTicks.forEach(t => {
  svg.append("line").attr("x1", 648.7).attr("x2", 651).attr("y1", gBarY(t)).attr("y2", gBarY(t)).attr("stroke", "#fff").attr("stroke-width", .5);
  svg.append("line").attr("x1", 658.7).attr("x2", 661).attr("y1", gBarY(t)).attr("y2", gBarY(t)).attr("stroke", "#fff").attr("stroke-width", .5);
  txt(664, gBarY(t), d3.format(".3f")(t), 5.6, "start", {fill:"#333"});
});
</script>
</body>
</html>
